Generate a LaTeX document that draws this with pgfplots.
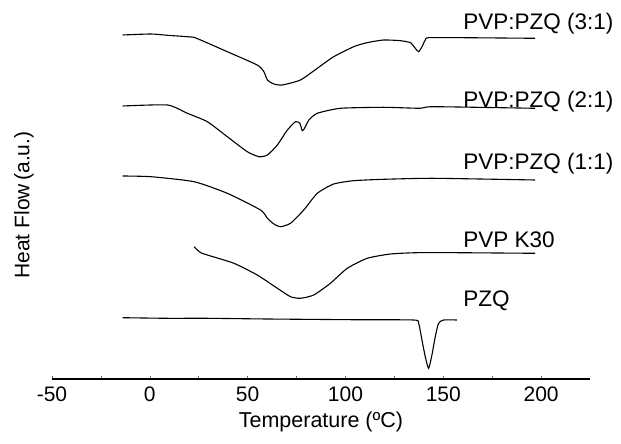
\documentclass[border=0pt]{standalone}
\usepackage{fontspec}
\setmainfont{Liberation Sans}
\usepackage{pgfplots}
\pgfplotsset{compat=1.18}
\begin{document}
\fontsize{21pt}{25pt}\selectfont
\begin{tikzpicture}
\tikzset{curve/.style={black, line width=1.1pt, smooth, tension=0.35, mark=none}}
\begin{axis}[
  name=ax,
  scale only axis,
  width=538pt, height=379pt,
  xmin=-50, xmax=225, ymin=-379, ymax=0,
  axis x line=bottom,
  axis y line=none,
  x axis line style={-, line width=1.6pt},
  xtick={-50,0,50,100,150,200},
  minor xtick={-25,25,75,125,175},
  tick align=inside,
  major tick length=3pt, minor tick length=3pt,
  tick style={black!60, line width=0.5pt},
  xticklabel style={font=\fontsize{21pt}{25pt}\selectfont, yshift=-1pt},
  /pgf/number format/assume math mode=true,
  xlabel={Temperature (ºC)},
  xlabel style={font=\fontsize{21.5pt}{25pt}\selectfont, yshift=4pt},
  clip=false,
]
% PVP:PZQ (3:1)
\addplot[curve] coordinates {(-13.9,-35) (0.5,-34) (9.0,-35.3) (22.6,-37.3) (26.0,-40) (39.6,-51.7) (54.9,-65) (58.3,-71.7) (60.1,-80) (63.4,-84) (67.7,-85) (77.0,-80) (85.6,-68.3) (94.0,-56.7) (104.2,-46.7) (111.0,-42.7) (119.5,-40) (128.1,-40.7) (133.2,-42.7) (135.7,-48.3) (137.4,-51.7) (139.1,-46.7) (140.8,-40) (142.5,-37.7) (160.4,-37.7) (196.9,-38.3)};
% PVP:PZQ (2:1)
\addplot[curve] coordinates {(-13.9,-106) (9.0,-105) (19.2,-113.3) (29.4,-121.7) (39.6,-136.7) (49.8,-151.7) (55.8,-156.7) (60.1,-155) (65.2,-145) (70.3,-130) (74.5,-121.7) (76.7,-123.3) (77.9,-130.7) (79.1,-128.3) (81.3,-120) (85.6,-113.3) (97.4,-108.3) (119.5,-107.3) (138.3,-108.3) (145.1,-106.7) (196.9,-108.3)};
% PVP:PZQ (1:1)
\addplot[curve] coordinates {(-13.9,-176) (0.5,-176.7) (22.6,-181.7) (39.6,-193.3) (56.6,-210) (60.1,-218.3) (63.4,-224) (66.8,-226.7) (71.9,-223.3) (78.7,-210) (85.6,-193.3) (94.0,-184) (104.2,-180.7) (119.5,-179.3) (145.1,-178.3) (196.9,-180)};
% PVP K30
\addplot[curve] coordinates {(22.6,-246.7) (26.0,-252.7) (31.1,-256) (43.0,-263.3) (54.9,-275) (65.2,-288.3) (71.9,-296.7) (77.0,-298.3) (83.8,-295) (92.3,-283.3) (100.9,-268.3) (111.1,-258.3) (123.0,-254) (136.6,-252.7) (157.0,-252.7) (196.9,-253.3)};
% PZQ
\addplot[curve] coordinates {(-13.9,-317.7) (9.0,-318.3) (29.4,-318.3) (60.1,-319) (102.6,-319.7) (134.8,-320) (137.4,-323.3) (139.1,-340) (140.8,-356.7) (142.5,-368.3) (144.2,-355) (145.9,-336.7) (147.6,-323.3) (150.2,-320) (157.0,-320)};
\begin{scope}[every node/.style={anchor=west, inner sep=0pt, font=\fontsize{22.5pt}{26pt}\selectfont}]
\node at (axis cs:160.2,-24) {PVP:PZQ (3:1)};
\node at (axis cs:160.2,-102) {PVP:PZQ (2:1)};
\node at (axis cs:160.2,-164) {PVP:PZQ (1:1)};
\node at (axis cs:160.2,-240) {PVP K30};
\node at (axis cs:160.2,-301) {PZQ};
\end{scope}
\node[rotate=90, inner sep=0pt] at (axis cs:-64.3,-205) {Heat Flow\,(a.u.)};
\end{axis}
\useasboundingbox (ax.south west) ++(-52pt,-65pt) rectangle ++(621pt,444pt);
\end{tikzpicture}
\end{document}
